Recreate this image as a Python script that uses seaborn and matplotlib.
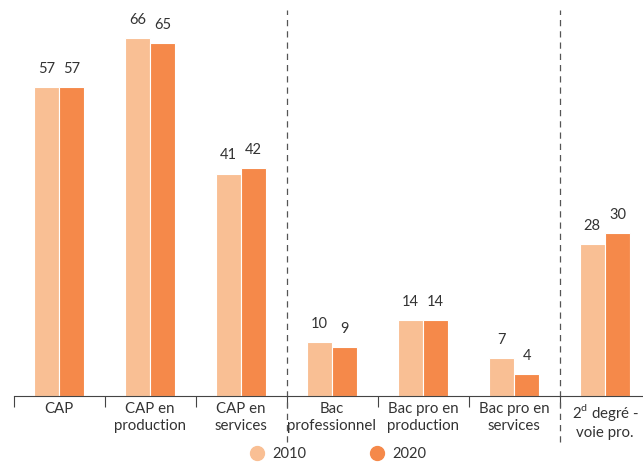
import numpy as np
import pandas as pd
import matplotlib.pyplot as plt
import seaborn as sns

# values
categories = ["CAP", "CAP en\nproduction", "CAP en\nservices", "Bac\nprofessionnel",
              "Bac pro en\nproduction", "Bac pro en\nservices",
              "2$^{\\mathregular{d}}$ degré -\nvoie pro."]
years = ["2010", "2020"]
values_2010 = [57, 66, 41, 10, 14, 7, 28]
values_2020 = [57, 65, 42, 9, 14, 4, 30]

COLORS = ["#F9BF94", "#F5894A"]
TEXT = "#333333"

df = pd.DataFrame({
    "cat": list(range(len(categories))) * 2,
    "year": [years[0]] * len(categories) + [years[1]] * len(categories),
    "val": values_2010 + values_2020,
})

sns.set_style("white")
plt.rcParams["font.family"] = ["Lato", "DejaVu Sans"]

fig = plt.figure(figsize=(6.43, 4.62), dpi=100)
ax = fig.add_axes([13.5 / 643, 66 / 462, 637 / 643, 396 / 462])

sns.barplot(data=df, x="cat", y="val", hue="year", palette=COLORS, saturation=1,
            width=0.56, edgecolor="white", linewidth=0.8, ax=ax, legend=False)

for cont in ax.containers:
    ax.bar_label(cont, padding=8, fontsize=10.5, color=TEXT)

ax.set_ylim(0, 73)
ax.set_xlim(-0.5, len(categories) - 0.5)
ax.set_yticks([])
ax.set_xlabel("")
ax.set_ylabel("")
for s in ["top", "right", "left"]:
    ax.spines[s].set_visible(False)
ax.spines["bottom"].set_color("#444444")
ax.spines["bottom"].set_linewidth(0.8)

# boundary ticks + centred labels
ax.set_xticks(np.arange(len(categories) + 1) - 0.5)
ax.set_xticklabels([])
ax.tick_params(axis="x", which="major", length=8, width=0.8, color="#444444", bottom=True)
ax.set_xticks(np.arange(len(categories)), minor=True)
ax.set_xticklabels(categories, minor=True, fontsize=10.8, color=TEXT, linespacing=1.3)
ax.tick_params(axis="x", which="minor", length=0, pad=4)

# dashed separators
for x in [2.5, 5.5]:
    ax.axvline(x, ymin=-0.115, ymax=0.975, color="#555555", linestyle=(0, (5, 4)),
               linewidth=0.9, clip_on=False)

handles = [plt.Line2D([], [], marker="o", linestyle="", markersize=10,
                      markerfacecolor=c, markeredgecolor=c) for c in COLORS]
fig.legend(handles, years, loc="lower center", bbox_to_anchor=(0.52, -0.027), ncol=2,
           frameon=False, fontsize=10.5, handletextpad=0.1, columnspacing=3.8,
           labelcolor=TEXT)

plt.savefig("out.png", dpi=100)
